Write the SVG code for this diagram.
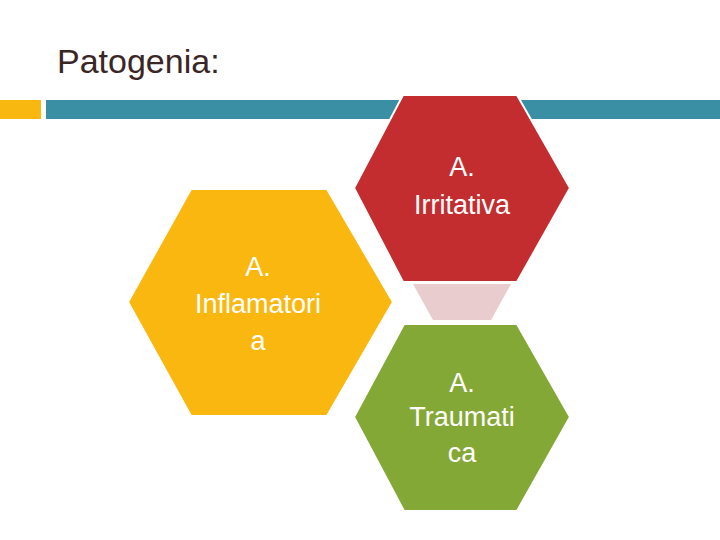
<svg xmlns="http://www.w3.org/2000/svg" width="720" height="540" viewBox="0 0 720 540">
<style>
.hx{stroke:#fff;stroke-width:2}
.t{font-family:"Liberation Sans",Arial,sans-serif;font-size:27px;fill:#fff;text-anchor:middle}
</style>
<rect width="720" height="540" fill="#fff"/>
<text x="57" y="73" font-family="Liberation Sans,Arial,sans-serif" font-size="34" fill="#3b2626">Patogenia:</text>
<rect x="0" y="100" width="41" height="19" fill="#f9b80f"/>
<rect x="46" y="100" width="674" height="19" fill="#3a8fa5"/>
<g id="connectors"><polygon points="413,284 511,284 491,320 433,320" fill="#e8ccce"/></g>
<g id="irritativa"><polygon class="hx" points="403,95 517,95 570,188 517,282 403,282 354,188" fill="#c32d2f"/>
<text class="t" x="462" y="176">A.</text><text class="t" x="462" y="214">Irritativa</text></g>
<g id="inflamatoria"><polygon class="hx" points="191,189 327,189 393,302 327,416 191,416 128,302" fill="#fab70f"/>
<text class="t" x="258" y="276">A.</text><text class="t" x="258" y="313">Inflamatori</text><text class="t" x="258" y="350">a</text></g>
<g id="traumatica"><polygon class="hx" points="404,324 517,324 570,417 517,511 404,511 354,417" fill="#84a836"/>
<text class="t" x="462" y="392">A.</text><text class="t" x="462" y="426">Traumati</text><text class="t" x="462" y="462">ca</text></g>
</svg>
